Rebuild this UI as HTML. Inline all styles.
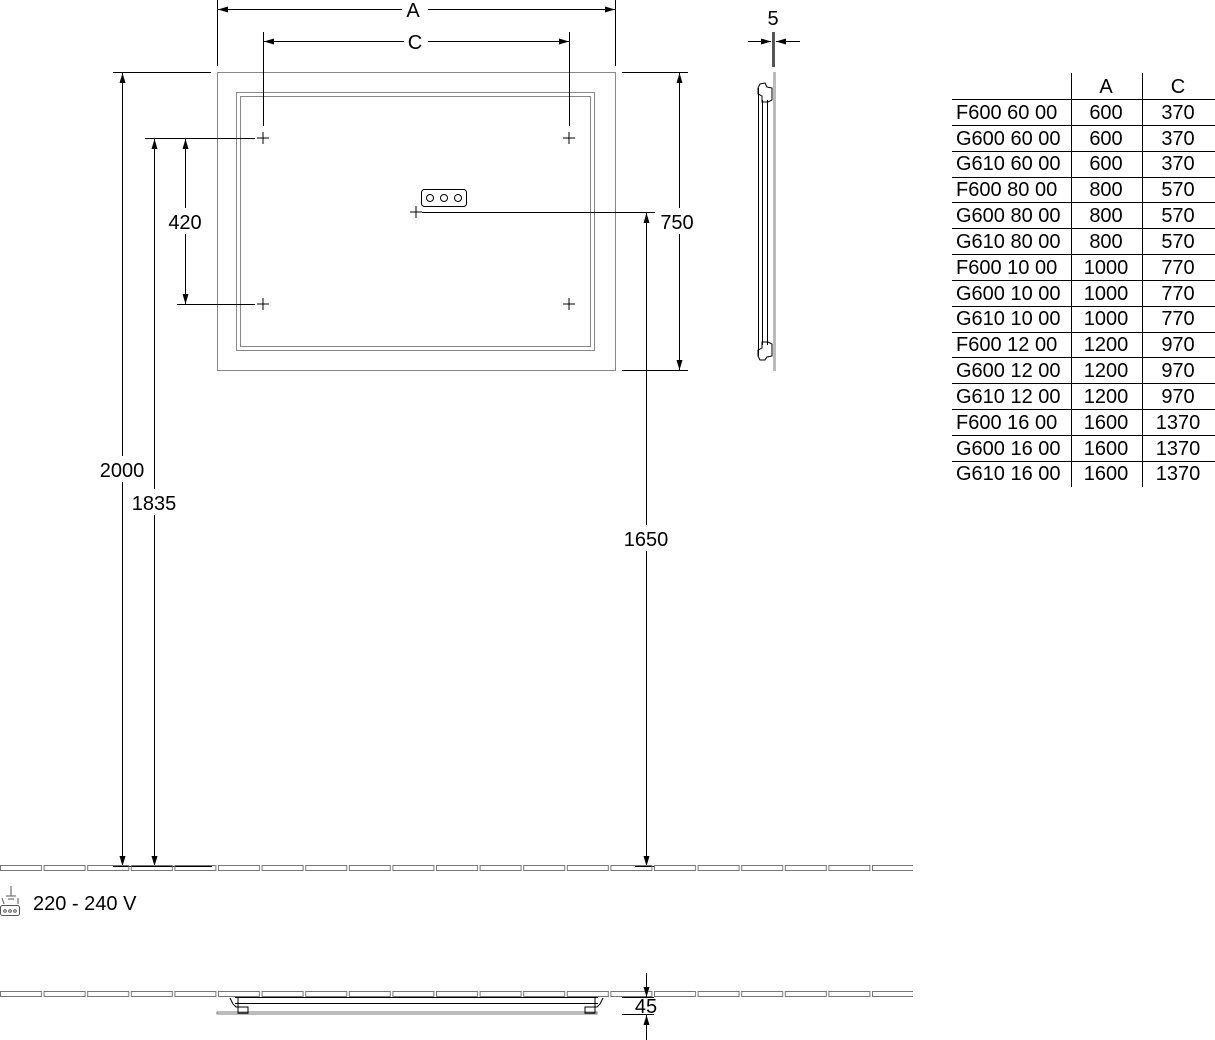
<!DOCTYPE html>
<html><head><meta charset="utf-8"><style>
html,body{margin:0;padding:0;background:#fff;}
svg{display:block;font-family:"Liberation Sans",Arial,sans-serif;}
text{font-size:20px;fill:#000;}
</style></head><body>
<svg width="1215" height="1040" viewBox="0 0 1215 1040" xmlns="http://www.w3.org/2000/svg">
<defs>
<marker id="ar" viewBox="0 0 10 6" refX="10" refY="3" markerWidth="10" markerHeight="6" orient="auto-start-reverse" markerUnits="userSpaceOnUse"><path d="M0,0 L10,3 L0,6 z" fill="#000"/></marker>
<g id="cr"><line x1="-6" y1="0" x2="6" y2="0" stroke="#000" stroke-width="1"/><line x1="0" y1="-6" x2="0" y2="6" stroke="#000" stroke-width="1"/></g>
<pattern id="tiles" x="0" y="865" width="43.6" height="8" patternUnits="userSpaceOnUse"><rect x="0.5" y="0.5" width="41" height="5" fill="none" stroke="#777" stroke-width="1"/></pattern>
<pattern id="tiles2" x="0" y="991" width="43.6" height="8" patternUnits="userSpaceOnUse"><rect x="0.5" y="0.5" width="41" height="5" fill="none" stroke="#777" stroke-width="1"/></pattern>
</defs>
<rect x="217.5" y="72.5" width="398" height="298" fill="none" stroke="#888" stroke-width="1"/>
<rect x="236.5" y="92.5" width="358" height="258" fill="none" stroke="#888" stroke-width="1"/>
<rect x="240.5" y="96.5" width="350" height="250" fill="none" stroke="#888" stroke-width="1"/>
<use href="#cr" x="263" y="138"/><use href="#cr" x="569" y="138"/>
<use href="#cr" x="263" y="304"/><use href="#cr" x="569" y="304"/>
<use href="#cr" x="416" y="212"/>
<rect x="421.5" y="189.5" width="45" height="17" rx="3" fill="none" stroke="#000"/>
<circle cx="430" cy="198" r="3.5" fill="none" stroke="#000"/><circle cx="444" cy="198" r="3.5" fill="none" stroke="#000"/><circle cx="458" cy="198" r="3.5" fill="none" stroke="#000"/>
<g stroke="#000" stroke-width="1" fill="none">
<line x1="217.5" y1="0" x2="217.5" y2="66"/><line x1="615.5" y1="0" x2="615.5" y2="66"/>
<line x1="218" y1="9.5" x2="402" y2="9.5" marker-start="url(#ar)"/><line x1="428" y1="9.5" x2="615" y2="9.5" marker-end="url(#ar)"/>
<line x1="263.5" y1="32" x2="263.5" y2="126"/><line x1="569.5" y1="32" x2="569.5" y2="126"/>
<line x1="264" y1="41.5" x2="404" y2="41.5" marker-start="url(#ar)"/><line x1="428" y1="41.5" x2="569" y2="41.5" marker-end="url(#ar)"/>
<line x1="113" y1="72.5" x2="211" y2="72.5"/>
<line x1="145" y1="138.5" x2="255" y2="138.5"/>
<line x1="177" y1="304.5" x2="255" y2="304.5"/>
<line x1="113" y1="866.5" x2="212" y2="866.5"/>
<line x1="122.5" y1="73" x2="122.5" y2="866" marker-start="url(#ar)" marker-end="url(#ar)"/>
<line x1="154.5" y1="139" x2="154.5" y2="866" marker-start="url(#ar)" marker-end="url(#ar)"/>
<line x1="185.5" y1="139" x2="185.5" y2="304" marker-start="url(#ar)" marker-end="url(#ar)"/>
<line x1="622" y1="72.5" x2="688" y2="72.5"/>
<line x1="622" y1="370.5" x2="688" y2="370.5"/>
<line x1="679.5" y1="73" x2="679.5" y2="370" marker-start="url(#ar)" marker-end="url(#ar)"/>
<line x1="422" y1="212.5" x2="655" y2="212.5"/>
<line x1="635" y1="866.5" x2="655" y2="866.5"/>
<line x1="646.5" y1="213" x2="646.5" y2="866" marker-start="url(#ar)" marker-end="url(#ar)"/>
</g>
<rect x="660" y="208" width="36" height="26" fill="#fff"/>
<rect x="98" y="456" width="50" height="26" fill="#fff"/>
<rect x="130" y="489" width="50" height="26" fill="#fff"/>
<rect x="166" y="208" width="40" height="26" fill="#fff"/>
<rect x="620" y="525" width="52" height="26" fill="#fff"/>
<text x="413" y="17" text-anchor="middle">A</text>
<text x="415" y="49" text-anchor="middle">C</text>
<text x="185" y="229" text-anchor="middle">420</text>
<text x="122" y="477" text-anchor="middle">2000</text>
<text x="154" y="510" text-anchor="middle">1835</text>
<text x="677" y="229" text-anchor="middle">750</text>
<text x="646" y="546" text-anchor="middle">1650</text>
<text x="773" y="25" text-anchor="middle">5</text>
<rect x="772" y="32" width="3" height="35" fill="#555"/>
<g stroke="#000" fill="none">
<line x1="748" y1="41.5" x2="771" y2="41.5" marker-end="url(#ar)"/>
<line x1="800" y1="41.5" x2="776" y2="41.5" marker-end="url(#ar)"/>
</g>
<rect x="773" y="72" width="3" height="299" fill="#bbb"/>
<g stroke="#000" stroke-width="1" fill="none">
<line x1="758.5" y1="88" x2="758.5" y2="356"/><line x1="762.5" y1="100" x2="762.5" y2="345"/><line x1="767.5" y1="100" x2="767.5" y2="345"/>
<path d="M758,88 L760,84 L765,83 L767,87 L772,88 L772,100 L768,102 L762,102 L762,96 L758,94 z"/>
<path d="M758,356 L760,360 L765,360 L767,357 L772,356 L772,344 L768,342 L762,342 L762,348 L758,350 z"/>
</g>
<g stroke="#000" stroke-width="1">
<line x1="1071.5" y1="73" x2="1071.5" y2="487"/><line x1="1142.5" y1="73" x2="1142.5" y2="487"/>
<line x1="952" y1="99.5" x2="1215" y2="99.5"/><line x1="952" y1="125.5" x2="1215" y2="125.5"/>
<line x1="952" y1="151.5" x2="1215" y2="151.5"/><line x1="952" y1="177.5" x2="1215" y2="177.5"/>
<line x1="952" y1="202.5" x2="1215" y2="202.5"/><line x1="952" y1="228.5" x2="1215" y2="228.5"/>
<line x1="952" y1="254.5" x2="1215" y2="254.5"/><line x1="952" y1="280.5" x2="1215" y2="280.5"/>
<line x1="952" y1="306.5" x2="1215" y2="306.5"/><line x1="952" y1="332.5" x2="1215" y2="332.5"/>
<line x1="952" y1="357.5" x2="1215" y2="357.5"/><line x1="952" y1="383.5" x2="1215" y2="383.5"/>
<line x1="952" y1="409.5" x2="1215" y2="409.5"/><line x1="952" y1="435.5" x2="1215" y2="435.5"/>
<line x1="952" y1="461.5" x2="1215" y2="461.5"/>
</g>
<g>
<text x="1106" y="93" text-anchor="middle">A</text><text x="1178" y="93" text-anchor="middle">C</text>
<text x="956" y="119">F600 60 00</text><text x="1106" y="119" text-anchor="middle">600</text><text x="1178" y="119" text-anchor="middle">370</text>
<text x="956" y="145">G600 60 00</text><text x="1106" y="145" text-anchor="middle">600</text><text x="1178" y="145" text-anchor="middle">370</text>
<text x="956" y="170">G610 60 00</text><text x="1106" y="170" text-anchor="middle">600</text><text x="1178" y="170" text-anchor="middle">370</text>
<text x="956" y="196">F600 80 00</text><text x="1106" y="196" text-anchor="middle">800</text><text x="1178" y="196" text-anchor="middle">570</text>
<text x="956" y="222">G600 80 00</text><text x="1106" y="222" text-anchor="middle">800</text><text x="1178" y="222" text-anchor="middle">570</text>
<text x="956" y="248">G610 80 00</text><text x="1106" y="248" text-anchor="middle">800</text><text x="1178" y="248" text-anchor="middle">570</text>
<text x="956" y="274">F600 10 00</text><text x="1106" y="274" text-anchor="middle">1000</text><text x="1178" y="274" text-anchor="middle">770</text>
<text x="956" y="300">G600 10 00</text><text x="1106" y="300" text-anchor="middle">1000</text><text x="1178" y="300" text-anchor="middle">770</text>
<text x="956" y="325">G610 10 00</text><text x="1106" y="325" text-anchor="middle">1000</text><text x="1178" y="325" text-anchor="middle">770</text>
<text x="956" y="351">F600 12 00</text><text x="1106" y="351" text-anchor="middle">1200</text><text x="1178" y="351" text-anchor="middle">970</text>
<text x="956" y="377">G600 12 00</text><text x="1106" y="377" text-anchor="middle">1200</text><text x="1178" y="377" text-anchor="middle">970</text>
<text x="956" y="403">G610 12 00</text><text x="1106" y="403" text-anchor="middle">1200</text><text x="1178" y="403" text-anchor="middle">970</text>
<text x="956" y="429">F600 16 00</text><text x="1106" y="429" text-anchor="middle">1600</text><text x="1178" y="429" text-anchor="middle">1370</text>
<text x="956" y="455">G600 16 00</text><text x="1106" y="455" text-anchor="middle">1600</text><text x="1178" y="455" text-anchor="middle">1370</text>
<text x="956" y="480">G610 16 00</text><text x="1106" y="480" text-anchor="middle">1600</text><text x="1178" y="480" text-anchor="middle">1370</text>
</g>
<rect x="0" y="865" width="913" height="8" fill="url(#tiles)"/>
<rect x="0" y="991" width="913" height="8" fill="url(#tiles2)"/>
<g stroke="#555" fill="none" stroke-width="1">
<line x1="11" y1="886" x2="11" y2="896"/><line x1="6" y1="896" x2="16" y2="896"/><line x1="8" y1="899" x2="14" y2="899"/>
<line x1="2" y1="898" x2="4" y2="904"/><line x1="18" y1="898" x2="18" y2="904"/>
<rect x="0.5" y="905.5" width="19" height="10" rx="2"/>
<circle cx="5" cy="911" r="1.3"/><circle cx="10" cy="911" r="1.3"/><circle cx="15" cy="911" r="1.3"/>
</g>
<text x="33" y="910">220 - 240 V</text>
<g stroke="#000" fill="none">
<line x1="235" y1="997.5" x2="598" y2="997.5"/>
<line x1="235" y1="1003.5" x2="598" y2="1003.5"/>
<rect x="217" y="1012" width="380" height="2" stroke="#777"/>
<path d="M230,998 L233,1004 L236,1007 L248,1007 L248,1013 L238,1013 L238,998"/>
<path d="M603,998 L600,1004 L597,1007 L585,1007 L585,1013 L595,1013 L595,998"/>
<line x1="622" y1="997.5" x2="654" y2="997.5"/>
<line x1="622" y1="1014.5" x2="654" y2="1014.5"/>
<line x1="646.5" y1="973" x2="646.5" y2="997" marker-end="url(#ar)"/>
<line x1="646.5" y1="1040" x2="646.5" y2="1015" marker-end="url(#ar)"/>
</g>
<text x="646" y="1013" text-anchor="middle">45</text>
</svg>
</body></html>
